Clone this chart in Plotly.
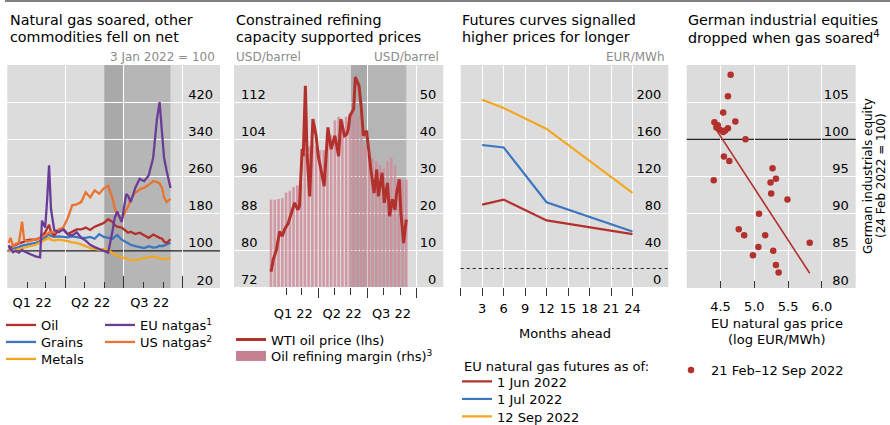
import numpy as np
import plotly.graph_objects as go

W, H = 890, 425
FONT = "DejaVu Sans"
RED, BLUE, YELLOW, PURPLE, ORANGE = "#b3312c", "#3c76bf", "#f3a71f", "#6b3c97", "#ea7330"
PINK = "#cf8e9c"
PINK_KEY = "#c5818f"
BG = "#dcdcdc"
GREY_TXT = "#8c8c8c"

# ---------------- Panel 1: commodity indices (3 Jan 2022 = 100) ----------------
p1_dates = ["2022-01-03", "2022-01-06", "2022-01-10", "2022-01-14", "2022-01-19", "2022-01-24", "2022-01-27",
            "2022-02-01", "2022-02-07", "2022-02-14", "2022-02-21", "2022-02-24", "2022-03-01", "2022-03-04",
            "2022-03-07", "2022-03-10", "2022-03-15", "2022-03-22", "2022-03-29", "2022-04-05", "2022-04-12",
            "2022-04-19", "2022-04-26", "2022-05-03", "2022-05-10", "2022-05-17", "2022-05-24", "2022-05-31",
            "2022-06-07", "2022-06-14", "2022-06-17", "2022-06-21", "2022-06-28", "2022-07-05", "2022-07-08",
            "2022-07-12", "2022-07-19", "2022-07-26", "2022-08-02", "2022-08-09", "2022-08-16", "2022-08-22",
            "2022-08-26", "2022-08-30", "2022-09-02", "2022-09-06", "2022-09-12"]
oil = [106, 108, 111, 113, 116, 118, 120, 123, 124, 124, 128, 132, 140, 148, 156, 140, 133, 145, 148, 136, 141,
       146, 146, 150, 145, 152, 156, 160, 168, 162, 156, 152, 150, 142, 139, 141, 136, 139, 133, 128, 135, 130,
       128, 126, 120, 117, 125]
grains = [102, 103, 105, 106, 108, 111, 112, 113, 115, 117, 121, 124, 130, 133, 135, 132, 130, 131, 130, 129, 131,
          129, 128, 128, 130, 126, 136, 130, 128, 126, 130, 134, 124, 118, 115, 113, 110, 108, 106, 110, 107, 108,
          111, 110, 112, 114, 117]
metals = [98, 99, 101, 102, 104, 106, 107, 109, 111, 113, 118, 120, 124, 127, 128, 124, 122, 124, 123, 121, 118,
          117, 114, 110, 106, 104, 102, 104, 103, 94, 92, 89, 86, 84, 82, 80, 80, 82, 85, 87, 88, 86,
          84, 82, 81, 82, 85]
eu_natgas = [112, 104, 97, 100, 96, 102, 99, 95, 92, 88, 86, 165, 150, 210, 284, 190, 145, 140, 146, 135, 133,
             140, 128, 122, 113, 108, 104, 100, 96, 145, 170, 185, 162, 222, 218, 205, 235, 255, 250, 262, 300, 385,
             420, 350, 300, 272, 235]
us_natgas = [117, 128, 110, 115, 117, 163, 125, 120, 122, 124, 127, 130, 133, 136, 139, 140, 141, 146, 150, 170,
             198, 200, 205, 226, 215, 230, 223, 234, 240, 212, 193, 178, 168, 188, 195, 212, 225, 232, 236, 242,
             250, 248, 245, 235, 215, 205, 212]
p1_yticks = [20, 100, 180, 260, 340, 420]
index_base = 100

# quarters / months for the time axes
quarter_ticks = ["2022-04-01", "2022-07-01", "2022-10-01"]
quarter_labels = ["Q1 22", "Q2 22", "Q3 22"]
month_ticks = ["2022-02-01", "2022-03-01", "2022-05-01", "2022-06-01", "2022-08-01", "2022-09-01"]
shade_periods = [["2022-06-01", "2022-07-01"], ["2022-07-01", "2022-09-12"]]
shade_colors = ["#a9a9a9", "#b6b6b6"]

# ---------------- Panel 2: WTI (lhs) and refining margin (rhs) ----------------
wti_dates = ["2022-01-03", "2022-01-07", "2022-01-13", "2022-01-19", "2022-01-24", "2022-01-28", "2022-02-04",
             "2022-02-10", "2022-02-16", "2022-02-22", "2022-02-25", "2022-03-02", "2022-03-04", "2022-03-08",
             "2022-03-11", "2022-03-16", "2022-03-22", "2022-03-28", "2022-04-01", "2022-04-06", "2022-04-12",
             "2022-04-19", "2022-04-25", "2022-05-02", "2022-05-09", "2022-05-13", "2022-05-20", "2022-05-24",
             "2022-05-27", "2022-05-30", "2022-06-02", "2022-06-06", "2022-06-09", "2022-06-16", "2022-06-20",
             "2022-06-24", "2022-06-30", "2022-07-05", "2022-07-08", "2022-07-14", "2022-07-19", "2022-07-22",
             "2022-07-29", "2022-08-02", "2022-08-08", "2022-08-12", "2022-08-17", "2022-08-22", "2022-08-25",
             "2022-08-30", "2022-09-02", "2022-09-07", "2022-09-12"]
wti = [75.3, 77.9, 80.0, 84.0, 83.0, 84.4, 85.8, 88.0, 90.2, 88.7, 89.5, 101.8, 100.3, 115.5, 101.0, 91.6, 108.3,
       104.7, 100.3, 97.4, 93.8, 106.5, 101.8, 104.7, 100.3, 108.3, 104.7, 105.0, 106.1, 109.0, 109.8, 110.5,
       117.4, 115.5, 111.0, 104.7, 105.8, 100.3, 97.4, 92.3, 97.4, 91.6, 96.7, 90.2, 94.5, 87.3, 91.0, 88.7, 92.3,
       95.3, 88.0, 81.5, 86.6]
margin_dates = ["2022-01-03", "2022-01-10", "2022-01-17", "2022-01-24", "2022-01-31", "2022-02-07", "2022-02-14",
                "2022-02-21", "2022-02-28", "2022-03-07", "2022-03-14", "2022-03-21", "2022-03-28", "2022-04-04",
                "2022-04-11", "2022-04-18", "2022-04-25", "2022-05-02", "2022-05-09", "2022-05-16", "2022-05-23",
                "2022-05-30", "2022-06-06", "2022-06-13", "2022-06-20", "2022-06-27", "2022-07-04", "2022-07-11",
                "2022-07-18", "2022-07-25", "2022-08-01", "2022-08-08", "2022-08-15", "2022-08-22", "2022-08-29",
                "2022-09-05", "2022-09-12"]
margin = [23.6, 23.6, 23.8, 24.0, 25.5, 26.0, 27.0, 27.5, 28.0, 36.0, 38.0, 39.0, 38.0, 37.0, 37.0, 39.0, 41.0,
          45.0, 46.0, 45.0, 46.0, 47.0, 49.0, 46.0, 42.0, 38.0, 36.0, 35.0, 34.0, 33.0, 32.0, 34.0, 35.0, 33.0,
          29.0, 29.0, 29.0]
wti_ticks = [72, 80, 88, 96, 104, 112]
margin_ticks = [0, 10, 20, 30, 40, 50]

# ---------------- Panel 3: EU natural gas futures curves ----------------
months_ahead = [3, 6, 12, 24]
fut_jun = [89.1, 94.5, 72.0, 57.1]
fut_jul = [153.5, 150.9, 91.6, 60.0]
fut_sep = [202.5, 193.5, 170.9, 101.8]
fut_names = ["1 Jun 2022", "1 Jul 2022", "12 Sep 2022"]
month_tickvals = [3, 6, 9, 12, 15, 18, 21, 24]
month_ticktext = ["3", "6", "9", "12", "15", "18", "21", "24"]
fut_yticks = [0, 40, 80, 120, 160, 200]
pre_crisis_level = 20

# ---------------- Panel 4: equities vs gas price ----------------
gas_log = [4.65, 4.61, 4.54, 4.72, 4.41, 4.46, 4.44, 4.49, 4.54, 4.57, 4.61, 4.87, 4.55, 4.63, 4.40, 5.27, 5.32,
           5.24, 5.25, 5.49, 5.07, 4.77, 4.85, 5.16, 5.06, 5.28, 4.98, 5.32, 5.36, 5.82]
equity = [108.7, 105.8, 103.6, 102.4, 102.3, 101.9, 101.6, 101.3, 101.0, 101.2, 101.5, 100.0, 97.7, 97.1, 94.5,
          96.1, 94.7, 94.2, 92.7, 91.9, 90.0, 87.9, 87.1, 87.1, 85.5, 85.0, 84.4, 83.1, 82.1, 86.1]
gas_tickvals = [4.5, 5.0, 5.5, 6.0]
gas_ticktext = ["4.5", "5.0", "5.5", "6.0"]
eq_yticks = [80, 85, 90, 95, 100, 105]

titles = [["Natural gas soared, other", "commodities fell on net"],
          ["Constrained refining", "capacity supported prices"],
          ["Futures curves signalled", "higher prices for longer"],
          ["German industrial equities", "dropped when gas soared<sup>4</sup>"]]


def fx(p):
    return p / W


def fy(p):
    return 1 - p / H


fig = go.Figure()
legends = {}
leg_font = dict(family=FONT, size=13, color="#000")


def legend_at(x_px, y_px):
    """register a one-entry legend box placed at a pixel spot of the page"""
    key = "legend" if not legends else "legend%d" % (len(legends) + 1)
    legends[key] = dict(x=fx(x_px), y=fy(y_px), xanchor="left", yanchor="middle", font=leg_font,
                        bgcolor="rgba(0,0,0,0)", borderwidth=0, itemwidth=30, tracegroupgap=0)
    return key


# ---- Panel 1 traces (drawing order) with legend slots
p1_series = [("Grains", grains, BLUE, (1, 342)), ("Metals", metals, YELLOW, (1, 359)),
             ("Oil", oil, RED, (1, 325)), ("US natgas<sup>2</sup>", us_natgas, ORANGE, (100, 342)),
             ("EU natgas<sup>1</sup>", eu_natgas, PURPLE, (100, 325))]
for name, vals, col, (lx, ly) in p1_series:
    fig.add_trace(go.Scatter(x=p1_dates, y=vals, mode="lines", name=name, line=dict(color=col, width=2.3),
                             xaxis="x", yaxis="y", legend=legend_at(lx, ly)))

# ---- Panel 2 traces
fig.add_trace(go.Bar(x=margin_dates, y=margin, name="Oil refining margin (rhs)<sup>3</sup>",
                     marker=dict(color=PINK, line=dict(width=0)), opacity=0.85, showlegend=False,
                     xaxis="x2", yaxis="y2"))
# legend key for the bars (wide swatch, as in the original key)
fig.add_trace(go.Scatter(x=[None], y=[None], mode="lines", name="Oil refining margin (rhs)<sup>3</sup>",
                         line=dict(color=PINK_KEY, width=10), xaxis="x2", yaxis="y2",
                         legend=legend_at(231, 356)))
fig.add_trace(go.Scatter(x=wti_dates, y=wti, mode="lines", name="WTI oil price (lhs)",
                         line=dict(color=RED, width=3), xaxis="x2", yaxis="y5", legend=legend_at(231, 339.5)))

# ---- Panel 3 traces
for name, vals, col, ly in zip(fut_names, [fut_jun, fut_jul, fut_sep], [RED, BLUE, YELLOW], [381.5, 399, 416.5]):
    fig.add_trace(go.Scatter(x=months_ahead, y=vals, mode="lines", name=name, line=dict(color=col, width=2.2),
                             xaxis="x3", yaxis="y3", legend=legend_at(457, ly)))

# ---- Panel 4 traces
slope, intercept = np.polyfit(gas_log, equity, 1)
fit_x = np.array([min(gas_log), max(gas_log)])
fig.add_trace(go.Scatter(x=fit_x, y=slope * fit_x + intercept, mode="lines", line=dict(color=RED, width=1.6),
                         showlegend=False, xaxis="x4", yaxis="y4"))
fig.add_trace(go.Scatter(x=gas_log, y=equity, mode="markers", name="21 Feb\u201312 Sep 2022",
                         marker=dict(color=RED, size=6.5), xaxis="x4", yaxis="y4", legend=legend_at(671, 370)))

# ---- axes
tickfont = dict(family=FONT, size=13, color="#000")
ydom = [fy(288), fy(65)]


def yax(rng, ticks, side="right", grid=True, skip=None, **kw):
    d = dict(range=rng, tickmode="array", tickvals=ticks, side=side, ticklabelposition="inside",
             ticklabeloverflow="allow", ticks="", showgrid=False, zeroline=False, showline=False,
             tickfont=tickfont, ticklabelshift=-8, ticklabelstandoff=4, fixedrange=True)
    if grid:
        d["minor"] = dict(tickmode="array", tickvals=[t for t in ticks if t != skip], ticks="",
                          showgrid=True, gridcolor="white", gridwidth=1.3)
    d.update(kw)
    return d


def time_xax(dom, rng, anchor, ticks, qlen, mlen, shift, standoff):
    return dict(domain=dom, type="date", range=rng, anchor=anchor, tickmode="array", tickvals=quarter_ticks,
                ticktext=quarter_labels, ticks=ticks, ticklen=qlen, tickcolor="#333", tickwidth=1.2,
                showgrid=True, gridcolor="white", gridwidth=1.3, zeroline=False, showline=False,
                tickfont=tickfont, ticklabelshift=shift, ticklabelstandoff=standoff, fixedrange=True,
                minor=dict(tickmode="array", tickvals=month_ticks, ticks=ticks, ticklen=mlen,
                           tickcolor="#333", tickwidth=1.2, showgrid=False))


def value_xax(dom, rng, anchor, vals, text, ticks, tlen, standoff, edge):
    return dict(domain=dom, anchor=anchor, range=rng, tickmode="array", tickvals=vals, ticktext=text,
                ticks=ticks, ticklen=tlen, tickcolor="#333", tickwidth=1.2, showgrid=True, gridcolor="white",
                gridwidth=1.3, zeroline=False, showline=False, tickfont=tickfont, ticklabelstandoff=standoff,
                fixedrange=True,
                minor=dict(tickmode="array", tickvals=[edge], ticks=ticks, ticklen=tlen, tickcolor="#333",
                           tickwidth=1.2, showgrid=False))


layout = dict(
    width=W, height=H, margin=dict(l=0, r=0, t=0, b=0, autoexpand=False), paper_bgcolor="white",
    plot_bgcolor=BG, font=dict(family=FONT, size=13, color="#000"), bargap=0.3, showlegend=True,
    xaxis=time_xax([fx(7.3), fx(220)], ["2022-01-01", "2022-11-28"], "y", "inside", 12, 6, -33, 5),
    yaxis=dict(domain=ydom, anchor="x", **yax([20, 500], p1_yticks, skip=index_base)),
    xaxis2=time_xax([fx(234), fx(443.3)], ["2021-10-26", "2022-11-20"], "y2", "outside", 10, 7, -25, 4),
    yaxis2=dict(domain=[fy(287), fy(65)], anchor="x2", **yax([0, 60], margin_ticks)),
    yaxis5=dict(overlaying="y2", anchor="x2", **yax([72, 120], wti_ticks, side="left", grid=False)),
    xaxis3=value_xax([fx(460.7), fx(668.3)], [0, 29], "y3", month_tickvals, month_ticktext, "outside", 8, 1, 0),
    yaxis3=dict(domain=[fy(287), fy(65)], anchor="x3", **yax([0, 240], fut_yticks)),
    xaxis4=value_xax([fx(686.7), fx(855.7)], [4.0, 6.5], "y4", gas_tickvals, gas_ticktext, "inside", 7, 9, 4.0),
    yaxis4=dict(domain=[fy(288), fy(65)], anchor="x4", **yax([80, 110], eq_yticks, skip=index_base)),
)
layout.update(legends)
fig.update_layout(**layout)

# ---- shapes (all drawn beneath the data)
shapes = [dict(type="line", xref="paper", yref="paper", x0=fx(5), x1=1, y0=fy(1), y1=fy(1),
               line=dict(color="#7f7f7f", width=2))]
for (a, b), col in zip(shade_periods, shade_colors):
    for xr, yr in [("x", "y domain"), ("x2", "y2 domain")]:
        shapes.append(dict(type="rect", xref=xr, yref=yr, x0=a, x1=b, y0=0, y1=1, fillcolor=col,
                           line=dict(width=0), layer="below"))
shapes.append(dict(type="line", xref="x domain", yref="y", x0=0, x1=1, y0=index_base, y1=index_base,
                   line=dict(color="#222", width=1.2), layer="below"))
shapes.append(dict(type="line", xref="x4 domain", yref="y4", x0=0, x1=1, y0=index_base, y1=index_base,
                   line=dict(color="#222", width=1.2), layer="below"))
shapes.append(dict(type="line", xref="x3 domain", yref="y3", x0=0, x1=1, y0=pre_crisis_level,
                   y1=pre_crisis_level, line=dict(color="#222", width=1.2, dash="dot"), layer="below"))
fig.update_layout(shapes=shapes)

# ---- annotations
ann = []
title_x = [8, 234, 460, 686]
for tx, (l1, l2) in zip(title_x, titles):
    for ty, t in [(20, l1), (36.5, l2)]:
        ann.append(dict(text=t, x=fx(tx), y=fy(ty), xref="paper", yref="paper", xanchor="left",
                        yanchor="middle", showarrow=False, font=dict(family=FONT, size=14.3, color="#000")))
unit_specs = [("3 Jan 2022 = 100", 217, "right"), ("USD/barrel", 234, "left"), ("USD/barrel", 441, "right"),
              ("EUR/MWh", 667, "right")]
for t, ux, anc in unit_specs:
    ann.append(dict(text=t, x=fx(ux), y=fy(57), xref="paper", yref="paper", xanchor=anc, yanchor="middle",
                    showarrow=False, font=dict(family=FONT, size=12, color=GREY_TXT)))
for t, ax_, ay, anc in [("Months ahead", 565, 333, "center"), ("EU natural gas price", 777, 323, "center"),
                        ("(log EUR/MWh)", 777, 339, "center"), ("EU natural gas futures as of:", 462, 366.5, "left")]:
    ann.append(dict(text=t, x=fx(ax_), y=fy(ay), xref="paper", yref="paper", xanchor=anc,
                    yanchor="middle", showarrow=False, font=dict(family=FONT, size=13, color="#000")))
for t, rx in [("German industrials equity", 868), ("(24 Feb 2022 = 100)", 881)]:
    ann.append(dict(text=t, x=fx(rx), y=fy(176), xref="paper", yref="paper", xanchor="center",
                    yanchor="middle", textangle=-90, showarrow=False,
                    font=dict(family=FONT, size=12, color="#000")))
fig.update_layout(annotations=ann)

fig.write_html("out.html", config={"displayModeBar": False},
               post_script="document.body.style.margin='0px';document.body.style.padding='0px';")
